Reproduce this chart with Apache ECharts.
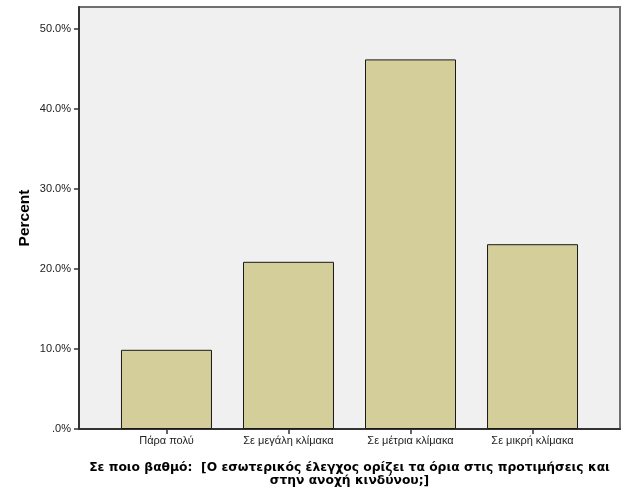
<!DOCTYPE html>
<html>
<head>
<meta charset="utf-8">
<script src="https://cdn.jsdelivr.net/npm/echarts@6/dist/echarts.min.js"></script>
<style>
html,body{margin:0;padding:0;background:#fff;}
#c{width:629px;height:504px;}
</style>
</head>
<body>
<div id="c"></div>
<script>
const categories = ['Πάρα πολύ', 'Σε μεγάλη κλίμακα', 'Σε μέτρια κλίμακα', 'Σε μικρή κλίμακα'];
const percents = [9.9, 20.9, 46.2, 23.1];
const yTicks = [0, 10, 20, 30, 40, 50];
const xTitle = 'Σε ποιο βαθμό:  [Ο εσωτερικός έλεγχος ορίζει τα όρια στις προτιμήσεις και\nστην ανοχή κινδύνου;]';
const yTitle = 'Percent';

const catIdx = categories.map((c, i) => i);
const chart = echarts.init(document.getElementById('c'), null, {renderer: 'canvas'});
chart.setOption({
  animation: false,
  backgroundColor: '#ffffff',
  grid: {
    left: 79, right: 9, top: 7, bottom: 75,
    show: true, backgroundColor: '#f0f0f0', borderColor: '#707070', borderWidth: 2
  },
  xAxis: {
    type: 'value',
    min: -0.717, max: 3.717,
    splitLine: {show: false},
    axisLine: {show: true, onZero: false, lineStyle: {color: '#333', width: 2}},
    axisTick: {show: true, customValues: catIdx, length: 5, lineStyle: {color: '#333', width: 1.5}},
    axisLabel: {
      customValues: catIdx, color: '#222', fontFamily: 'Liberation Sans, Arial, sans-serif', fontSize: 11, margin: 6,
      formatter: v => categories[Math.round(v)]
    },
    name: xTitle,
    nameLocation: 'middle',
    nameGap: 32,
    nameMoveOverlap: false,
    nameTextStyle: {fontFamily: 'DejaVu Sans, sans-serif', fontWeight: 'bold', fontSize: 12.3, color: '#000', lineHeight: 13.5, align: 'center'}
  },
  yAxis: {
    type: 'value',
    min: 0, max: 52.75,
    splitLine: {show: false},
    axisLine: {show: true, onZero: false, lineStyle: {color: '#333', width: 2}},
    axisTick: {show: true, customValues: yTicks, length: 5, lineStyle: {color: '#333', width: 1.5}},
    axisLabel: {
      customValues: yTicks, color: '#222', fontFamily: 'Liberation Sans, Arial, sans-serif', fontSize: 11, margin: 8,
      formatter: v => v === 0 ? '.0%' : v.toFixed(1) + '%'
    },
    name: yTitle,
    nameLocation: 'middle',
    nameGap: 54,
    nameMoveOverlap: false,
    nameTextStyle: {fontFamily: 'Liberation Sans, Arial, sans-serif', fontWeight: 'bold', fontSize: 15.5, color: '#000', verticalAlign: 'middle'}
  },
  series: [{
    type: 'bar',
    data: percents.map((p, i) => [i, p]),
    barWidth: 91,
    itemStyle: {color: '#d3ce9a', borderColor: '#1a1a1a', borderWidth: 1}
  }]
});
</script>
</body>
</html>
